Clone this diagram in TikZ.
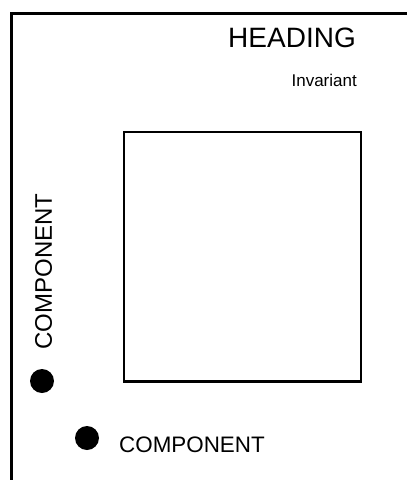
\documentclass[tikz,border=0pt]{standalone}
\usepackage{fontspec}
\setmainfont{Liberation Sans}
\begin{document}
\begin{tikzpicture}[x=1pt,y=-1pt,
  frame/.style={line width=3pt},
  box/.style={draw,line width=2.6pt},
  dot/.style={circle,fill=black,inner sep=0pt,minimum size=24pt},
  lbl/.style={inner sep=0pt}]
\useasboundingbox (0,0) rectangle (407,480);
\draw[frame] (11.7,485) -- (11.7,13.3) -- (412,13.3);
\node[lbl,anchor=base east,font=\fontsize{28}{30}\selectfont] (heading) at (356,47) {HEADING};
\node[lbl,anchor=base east,font=\fontsize{17}{19}\selectfont] (inv) at (357,86) {Invariant};
\draw[box] (124,132) rectangle (361,381.5);
\node[dot] (d1) at (42,381) {};
\node[dot] (d2) at (87,438) {};
\node[lbl,rotate=90,anchor=base,font=\fontsize{24}{26}\selectfont] (c1) at (52,271.5) {COMPONENT};
\node[lbl,anchor=base west,font=\fontsize{22.4}{24}\selectfont] (c2) at (119,452) {COMPONENT};
\end{tikzpicture}
\end{document}
